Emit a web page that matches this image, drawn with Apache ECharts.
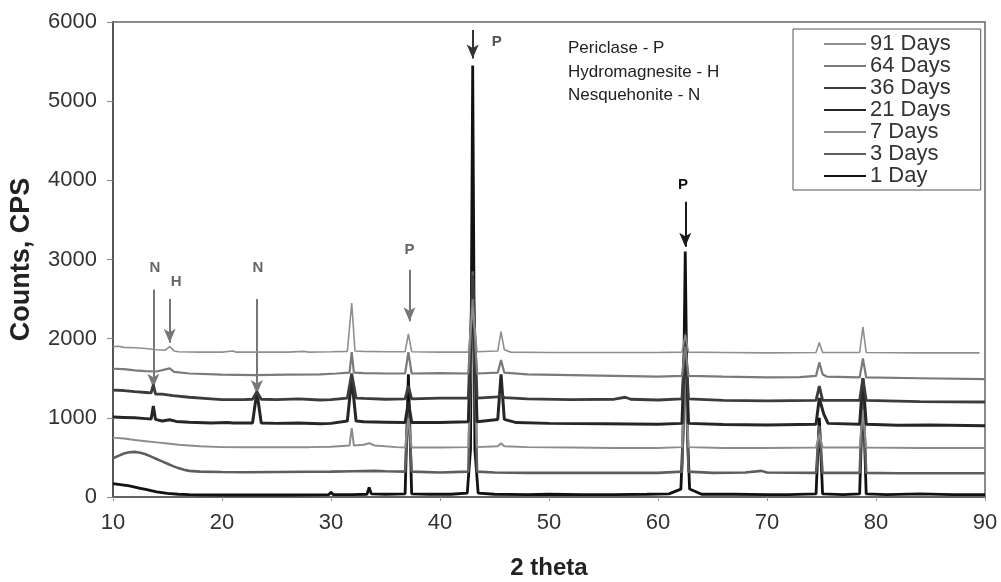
<!DOCTYPE html>
<html>
<head>
<meta charset="utf-8">
<script src="https://cdn.jsdelivr.net/npm/echarts@6/dist/echarts.min.js"></script>
<style>
html,body{margin:0;padding:0;background:#fff;}
#c{width:1001px;height:582px;}
</style>
</head>
<body>
<div id="c"></div>
<script>
// ---- data (2 theta, counts) ----
const xTicks = [10, 20, 30, 40, 50, 60, 70, 80, 90];
const yTicks = [0, 1000, 2000, 3000, 4000, 5000, 6000];
const seriesNames = ['1 Day', '3 Days', '7 Days', '21 Days', '36 Days', '64 Days', '91 Days'];
const legendOrder = ['91 Days', '64 Days', '36 Days', '21 Days', '7 Days', '3 Days', '1 Day'];

const day1 = [[10,170],[10.5,160],[11,150],[11.5,140],[12,125],[12.5,110],[13,95],[13.5,80],[14,65],[14.5,55],[15,45],[16,35],[17,30],[18,28],[20,25],[22,25],[24,28],[26,25],[28,28],[29.8,30],[30,60],[30.2,30],[32,30],[33.3,35],[33.5,120],[33.7,40],[35,35],[36.8,40],[37.1,1550],[37.4,40],[39,35],[41,35],[42.5,50],[42.8,600],[43.0,5450],[43.2,600],[43.5,50],[45,35],[48,30],[50,35],[53,30],[56,30],[59,35],[61,40],[62.1,100],[62.3,800],[62.5,3100],[62.7,800],[62.9,100],[64,35],[67,35],[70,30],[72,30],[74.5,40],[74.8,1000],[75.1,40],[77,30],[78.5,40],[78.8,1400],[79.1,40],[81,30],[84,40],[87,30],[90,30]];
const day3 = [[10,490],[10.5,520],[11,550],[11.5,565],[12,570],[12.5,560],[13,540],[13.5,510],[14,480],[14.5,450],[15,420],[15.5,390],[16,365],[16.5,345],[17,330],[18,320],[20,315],[22,312],[25,315],[28,318],[30,320],[32,325],[34,330],[35,325],[36.8,320],[37.1,1200],[37.4,320],[40,310],[42.6,320],[43,2850],[43.4,320],[45,310],[48,305],[50,305],[55,305],[60,305],[62.2,320],[62.5,1800],[62.8,320],[65,305],[68,310],[69.5,330],[70,310],[74.5,305],[74.8,900],[75.1,305],[78.5,305],[78.8,1300],[79.1,305],[82,300],[86,300],[90,300]];
const day7 = [[10,750],[11,740],[12,720],[13,705],[14,690],[15,675],[16,660],[17,650],[18,640],[20,630],[22,628],[25,628],[28,630],[30,635],[31.7,650],[31.9,870],[32.1,650],[33,660],[33.5,680],[34,650],[36,630],[36.8,625],[37.1,1000],[37.4,625],[40,625],[42.6,630],[43,2600],[43.4,630],[45.3,640],[45.6,680],[45.9,640],[48,630],[52,625],[56,620],[60,620],[62.2,630],[62.5,1700],[62.8,630],[66,620],[70,620],[74.5,625],[74.8,800],[75.1,625],[78.5,625],[78.8,1100],[79.1,625],[84,620],[90,620]];
const day21 = [[10,1010],[11,1005],[12,1000],[13,990],[13.5,985],[13.7,1150],[13.9,980],[14.5,960],[15.2,975],[15.8,955],[17,945],[19,935],[20.5,940],[21,935],[22.8,935],[23.2,1330],[23.6,935],[25,930],[27,935],[29,925],[30,930],[31.5,960],[31.9,1500],[32.3,960],[33,950],[35,945],[36.8,940],[37.1,1200],[37.4,940],[40,940],[42.6,950],[43,2700],[43.4,950],[45.3,980],[45.6,1550],[45.9,980],[47,940],[50,930],[55,925],[60,920],[62.2,930],[62.5,2100],[62.8,930],[66,915],[70,910],[74.5,920],[74.8,1250],[75.2,1050],[75.6,930],[78.5,920],[78.8,1500],[79.1,920],[82,905],[85,910],[90,900]];
const day36 = [[10,1350],[11,1345],[12,1330],[13,1320],[13.5,1315],[13.7,1420],[13.9,1300],[14.5,1300],[15.5,1280],[17,1260],[19,1240],[20,1230],[22,1230],[22.8,1235],[23.2,1330],[23.6,1235],[25,1230],[27,1240],[29,1225],[30,1230],[31.5,1250],[31.9,1560],[32.3,1250],[33,1245],[35,1235],[36.8,1240],[37.1,1400],[37.4,1240],[40,1250],[42.6,1250],[43,2800],[43.4,1250],[45.3,1265],[45.6,1300],[45.9,1255],[48,1240],[52,1230],[56,1235],[57,1260],[57.5,1235],[60,1225],[62.2,1240],[62.5,2000],[62.8,1240],[66,1220],[70,1215],[74.5,1220],[74.8,1400],[75.1,1220],[78.5,1220],[78.8,1500],[79.1,1220],[84,1205],[90,1200]];
const day64 = [[10,1620],[11,1615],[12,1600],[13,1590],[14,1585],[15.2,1625],[15.6,1580],[17,1560],[20,1545],[23,1540],[26,1545],[29,1550],[30.5,1560],[31.7,1570],[31.9,1830],[32.1,1570],[33,1565],[35,1560],[36.8,1560],[37.1,1830],[37.4,1560],[40,1565],[42.6,1560],[43,2500],[43.4,1560],[45.3,1570],[45.6,1730],[45.9,1570],[48,1550],[52,1540],[56,1530],[60,1520],[62.2,1530],[62.5,1900],[62.8,1530],[66,1520],[70,1510],[73,1515],[74.5,1530],[74.8,1700],[75.1,1550],[75.5,1520],[78.5,1510],[78.8,1750],[79.1,1510],[84,1500],[90,1490]];
const day91 = [[10,1900],[10.5,1905],[11,1890],[12,1885],[13,1875],[14,1860],[14.8,1855],[15.2,1900],[15.6,1845],[16,1835],[18,1830],[20,1830],[21,1845],[21.3,1830],[24,1830],[26,1830],[27.5,1840],[28,1830],[30,1835],[31.5,1840],[31.9,2450],[32.2,1845],[33,1840],[35,1835],[36.8,1835],[37.1,2060],[37.4,1835],[40,1830],[42.6,1830],[43,2400],[43.4,1835],[45.3,1845],[45.6,2090],[45.9,1860],[46.5,1830],[50,1825],[55,1825],[60,1825],[62.2,1830],[62.5,2050],[62.8,1830],[66,1825],[70,1820],[74.5,1825],[74.8,1950],[75.1,1825],[78.5,1825],[78.8,2150],[79.1,1825],[84,1820],[89.5,1820]];

// arrows: x, from (top), to (tip)
const arrowX    = [13.7, 15.2, 23.2, 37.2, 43.0, 62.5];
const arrowFrom = [2620, 2500, 2500, 2870, 5900, 3730];
const arrowTo   = [1380, 1950, 1300, 2220, 5540, 3160];
// mineral labels
const labelText = ['N', 'H', 'N', 'P', 'P', 'P'];
const labelX    = [13.85, 15.8, 23.3, 37.2, 45.2, 62.3];
const labelY    = [2890, 2715, 2890, 3120, 5750, 3940];
const keyText   = ['Periclase - P', 'Hydromagnesite - H', 'Nesquehonite - N'];

const seriesData = [day1, day3, day7, day21, day36, day64, day91];
const seriesColor = ['#111111', '#5e5e5e', '#8c8c8c', '#262626', '#3c3c3c', '#7a7a7a', '#8f8f8f'];
const seriesWidth = [2.8, 2.6, 2, 3, 2.8, 2.2, 1.6];
const arrowColor = ['#777', '#777', '#777', '#777', '#333', '#1a1a1a'];
const labelColor = ['#666', '#666', '#666', '#666', '#555', '#111'];

const FONT = '"Liberation Sans", Arial, sans-serif';

const chart = echarts.init(document.getElementById('c'), null, {renderer: 'canvas'});

const series = seriesNames.map((n, i) => ({
  name: n,
  type: 'line',
  data: seriesData[i],
  showSymbol: false,
  symbol: 'none',
  lineStyle: {color: seriesColor[i], width: seriesWidth[i]},
  itemStyle: {color: seriesColor[i]},
  z: 2 + i
}));

series.push({
  name: 'annot',
  type: 'line',
  data: [],
  z: 20,
  markLine: {
    silent: true,
    animation: false,
    symbol: ['none', 'arrow'],
    symbolSize: [9, 14],
    label: {show: false},
    data: arrowX.map((x, i) => [
      {coord: [x, arrowFrom[i]], lineStyle: {color: arrowColor[i], width: 2, type: 'solid'}, itemStyle: {color: arrowColor[i]}},
      {coord: [x, arrowTo[i]]}
    ])
  },
  markPoint: {
    silent: true,
    animation: false,
    symbol: 'circle',
    symbolSize: 0,
    data: labelText.map((t, i) => ({
      name: t,
      coord: [labelX[i], labelY[i]],
      label: {show: true, position: 'inside', formatter: '{b}', color: labelColor[i], fontSize: 15, fontWeight: 'bold', fontFamily: FONT}
    }))
  }
});

chart.setOption({
  animation: false,
  backgroundColor: '#ffffff',
  grid: {left: 113, right: 16, top: 22, bottom: 85, show: true, borderColor: '#666', borderWidth: 1.5, backgroundColor: 'transparent', containLabel: false, outerBoundsMode: 'none'},
  legend: {
    data: legendOrder,
    orient: 'vertical',
    left: 793,
    top: 29,
    padding: [4, 30, 3, 30],
    itemGap: 0,
    itemWidth: 42,
    itemHeight: 22,
    itemStyle: {opacity: 0},
    borderColor: '#555',
    borderWidth: 1,
    backgroundColor: '#fff',
    textStyle: {fontFamily: FONT, fontSize: 22, color: '#333', lineHeight: 22, height: 22, padding: [0, 0, 0, -1]}
  },
  xAxis: {
    type: 'value', min: 10, max: 90, interval: 10,
    name: '2 theta', nameLocation: 'middle', nameGap: 59,
    nameTextStyle: {fontFamily: FONT, fontSize: 24, fontWeight: 'bold', color: '#222'},
    axisLine: {show: true, lineStyle: {color: '#555', width: 1.5}},
    axisTick: {show: true, length: 4, lineStyle: {color: '#999'}},
    axisLabel: {fontFamily: FONT, fontSize: 22, color: '#333', margin: 15, formatter: v => String(v)},
    splitLine: {show: false}
  },
  yAxis: {
    type: 'value', min: 0, max: 6000, interval: 1000,
    name: 'Counts, CPS', nameLocation: 'middle', nameGap: 78,
    nameTextStyle: {fontFamily: FONT, fontSize: 27, fontWeight: 'bold', color: '#222'},
    axisLine: {show: true, lineStyle: {color: '#555', width: 2}},
    axisTick: {show: true, length: 6, lineStyle: {color: '#888'}},
    axisLabel: {fontFamily: FONT, fontSize: 22, color: '#333', margin: 16, formatter: v => String(v)},
    splitLine: {show: false}
  },
  graphic: keyText.map((t, i) => ({
    type: 'text', left: 568, top: 40 + i * 23.5,
    style: {text: t, font: '17px ' + FONT, fill: '#222'}
  })),
  series: series
});
</script>
</body>
</html>
